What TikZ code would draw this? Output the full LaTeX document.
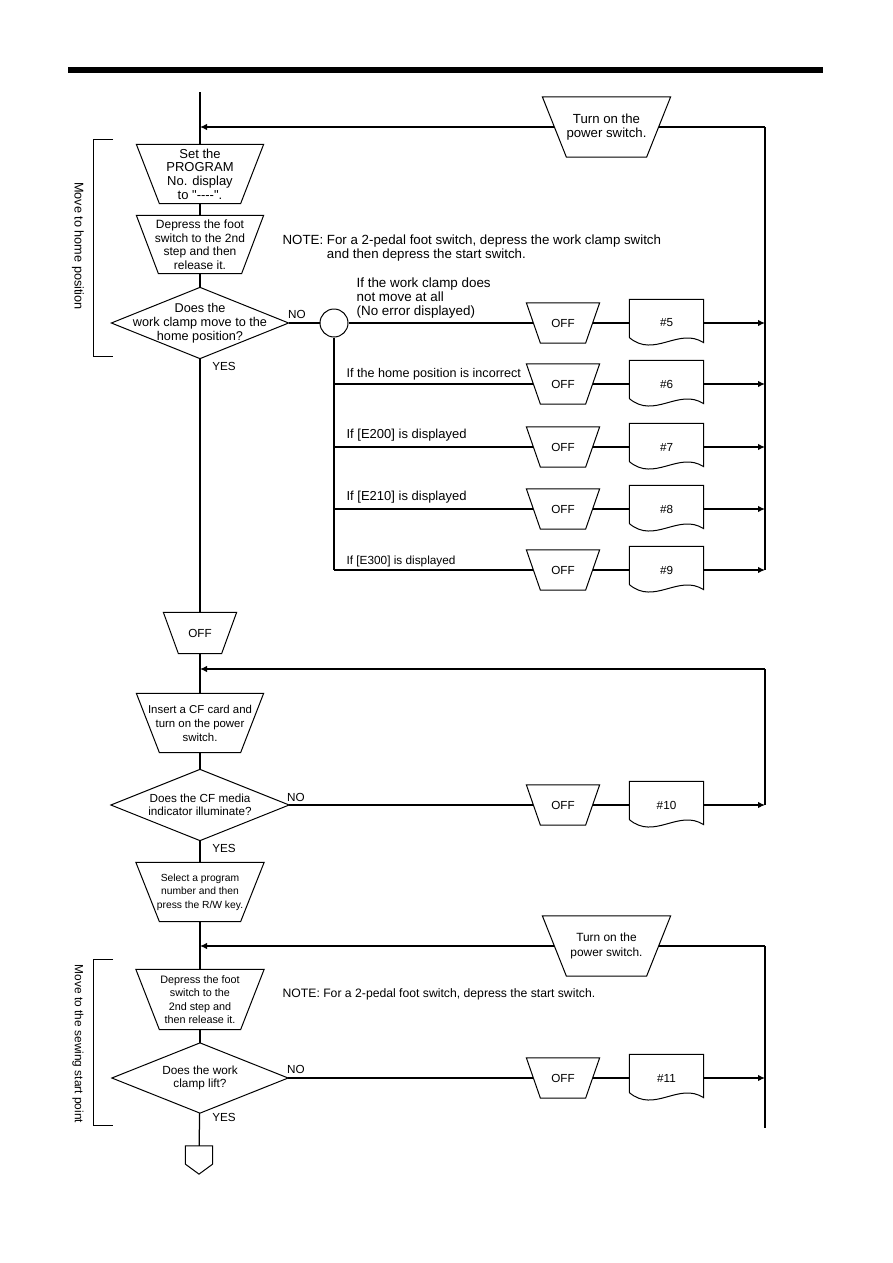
\documentclass[tikz,border=0pt]{standalone}
\usepackage{fontspec}
\newfontfamily\lib{Liberation Sans}
\usetikzlibrary{arrows.meta,calc}
\newcommand\fsz[2]{\fontsize{#1pt}{#2pt}\selectfont}
\newcommand\trapdraw[2]{\draw[shp] (#1.north west) -- (#1.north east) -- ([xshift=-#2pt]#1.south east) -- ([xshift=#2pt]#1.south west) -- cycle;}
\newcommand\diadraw[1]{\draw[shp] (#1.north) -- (#1.east) -- (#1.south) -- (#1.west) -- cycle;}
\newcommand\docdraw[1]{\draw[shp] ($(#1.south west)+(0,-9)$) -- (#1.north west) -- (#1.north east) -- ($(#1.south east)+(0,-4)$) .. controls ($(#1.south east)+(-25,-20)$) and ($(#1.south west)+(25,12)$) .. ($(#1.south west)+(0,-9)$);}
\begin{document}
\begin{tikzpicture}[x=1pt,y=-1pt,line width=1.25pt,
  shp/.style={line width=1pt,line join=miter},
  box/.style={inner sep=0pt,align=center},
  lbl/.style={inner sep=0pt,font=\lib\fsz{11.7}{14}},
  arr/.style={-{Latex[length=7pt,width=6.5pt]}}]
\useasboundingbox (0,0) rectangle (893,1263);
\fill (68,67) rectangle (823,72.5);

% ---------- first section ----------
\coordinate (top) at (200,92);
\coordinate (j1) at (200,127);
\coordinate (r1) at (765,127);
\node[box,minimum width=127pt,minimum height=59pt,font=\lib\fsz{13.2}{13.5}] (pw1) at (606.5,127) {Turn on the\\power switch.};
\node[box,minimum width=126pt,minimum height=58pt,font=\lib\fsz{13}{13.7}] (prog) at (200,174) {Set the\\PROGRAM\\No. display\\to "----".};
\node[box,minimum width=126pt,minimum height=57pt,font=\lib\fsz{12}{13.5}] (dep1) at (200,244.5) {Depress the foot\\switch to the 2nd\\step and then\\release it.};
\node[box,minimum width=176pt,minimum height=70pt,font=\lib\fsz{12.7}{14}] (d1) at (200,323) {Does the\\work clamp move to the\\home position?};
\node[circle,draw,line width=1pt,minimum size=28pt,inner sep=0pt] (circ) at (334,323) {};
\node[lbl,anchor=west,align=left,font=\lib\fsz{13.4}{14}] (lab5) at (356,298) {If the work clamp does\\not move at all\\(No error displayed)};
\node[lbl,anchor=west,align=left,font=\lib\fsz{13.3}{14}] (note1) at (282,248) {NOTE: For a 2-pedal foot switch, depress the work clamp switch\\\hphantom{NOTE: }and then depress the start switch.};
\node[lbl] (no1) at (297,314) {NO};
\node[lbl] (yes1) at (224,366) {YES};

\foreach \n/\y in {5/323,6/384,7/447,8/509,9/570}{
  \node[box,minimum width=72pt,minimum height=39pt,font=\lib\fsz{11.7}{14}] (off\n) at (563,\y) {OFF};
  \node[box,minimum width=73pt,minimum height=46pt,font=\lib\fsz{11.7}{14}] (doc\n) at (666.5,\y) {\#\n};
  \coordinate (a\n) at (765,\y);
  \coordinate (b\n) at (334,\y);
}
\node[lbl,anchor=west,font=\lib\fsz{12.6}{14}] (lab6) at (346,374) {If the home position is incorrect};
\node[lbl,anchor=west,font=\lib\fsz{13}{14}] (lab7) at (346,435) {If [E200] is displayed};
\node[lbl,anchor=west,font=\lib\fsz{13}{14}] (lab8) at (346,497) {If [E210] is displayed};
\node[lbl,anchor=west,font=\lib\fsz{11.8}{14}] (lab9) at (346,561) {If [E300] is displayed};

\node[lbl,rotate=-90,font=\lib\fsz{12.7}{14}] (mv1) at (78,246) {Move to home position};
\draw[shp] (113,139) -- (93,139) -- (93,356) -- (113,356);

% ---------- second section ----------
\node[box,minimum width=72pt,minimum height=40pt,font=\lib\fsz{11.7}{14}] (off1) at (200,633) {OFF};
\coordinate (j2) at (200,669);
\coordinate (r2) at (765,669);
\node[box,minimum width=126pt,minimum height=58pt,font=\lib\fsz{11.4}{14}] (cf) at (200,723) {Insert a CF card and\\turn on the power\\switch.};
\node[box,minimum width=177pt,minimum height=70pt,font=\lib\fsz{11.7}{13}] (d2) at (200,805) {Does the CF media\\indicator illuminate?};
\node[lbl] (no2) at (296,797) {NO};
\node[lbl] (yes2) at (224,848) {YES};
\node[box,minimum width=72pt,minimum height=39pt,font=\lib\fsz{11.7}{14}] (off10) at (563,805) {OFF};
\node[box,minimum width=73pt,minimum height=46pt,font=\lib\fsz{11.7}{14}] (doc10) at (666.5,805) {\#10};
\coordinate (a10) at (765,805);

% ---------- third section ----------
\node[box,minimum width=127pt,minimum height=58pt,font=\lib\fsz{10.3}{13.5}] (sel) at (200,892) {Select a program\\number and then\\press the R/W key.};
\coordinate (j3) at (200,946);
\coordinate (r3) at (765,946);
\coordinate (e3) at (765,1128);
\node[box,minimum width=127pt,minimum height=59pt,font=\lib\fsz{11.9}{14.5}] (pw2) at (606.5,946) {Turn on the\\power switch.};
\node[box,minimum width=127pt,minimum height=59pt,font=\lib\fsz{10.8}{13.5}] (dep2) at (200,999.5) {Depress the foot\\switch to the\\2nd step and\\then release it.};
\node[lbl,anchor=west,font=\lib\fsz{12.2}{14}] (note2) at (282,994) {NOTE: For a 2-pedal foot switch, depress the start switch.};
\node[box,minimum width=175pt,minimum height=69pt,font=\lib\fsz{11.8}{13}] (d3) at (200,1078) {Does the work\\clamp lift?};
\node[lbl] (no3) at (296,1069) {NO};
\node[lbl] (yes3) at (224,1117) {YES};
\node[box,minimum width=72pt,minimum height=39pt,font=\lib\fsz{11.7}{14}] (off11) at (563,1078) {OFF};
\node[box,minimum width=73pt,minimum height=46pt,font=\lib\fsz{11.7}{14}] (doc11) at (666.5,1078) {\#11};
\coordinate (a11) at (765,1078);
\node[box,minimum width=26pt,minimum height=27pt] (conn) at (199,1160) {};
\draw[shp] (113,959) -- (93,959) -- (93,1125) -- (113,1125);
\node[lbl,rotate=-90,font=\lib\fsz{11.9}{14}] (mv2) at (78,1044) {Move to the sewing start point};

% ---------- shapes ----------
\trapdraw{pw1}{24}
\trapdraw{prog}{23}
\trapdraw{dep1}{22}
\diadraw{d1}
\foreach \n in {5,6,7,8,9,10,11}{\trapdraw{off\n}{14}\docdraw{doc\n}}
\trapdraw{off1}{15}
\trapdraw{cf}{23}
\diadraw{d2}
\trapdraw{sel}{23.5}
\trapdraw{pw2}{24}
\trapdraw{dep2}{23.5}
\diadraw{d3}
\draw[shp] (conn.north west) -- (conn.north east) -- ($(conn.south east)+(0,-10)$) -- (conn.south) -- ($(conn.south west)+(0,-10)$) -- cycle;

% ---------- connectors ----------
\draw (top) -- (prog);
\draw (prog) -- (dep1);
\draw (dep1) -- (d1);
\draw (d1) -- (off1);
\draw (off1) -- (cf);
\draw (cf) -- (d2);
\draw (d2) -- (sel);
\draw (sel) -- (dep2);
\draw (dep2) -- (d3);
\draw (d3) -- (conn);

\draw (r1) -- ([xshift=-12pt]pw1.east);
\draw[arr] ([xshift=12pt]pw1.west) -- (j1);
\draw (r1) -- (a9);
\draw (d1) -- (circ);
\draw (circ) -- (b9);
\draw (circ) -- ([xshift=7pt]off5.west);
\foreach \n in {6,7,8,9}{\draw (b\n) -- ([xshift=7pt]off\n.west);}
\foreach \n in {5,6,7,8,9,10,11}{
  \draw ([xshift=-7pt]off\n.east) -- (doc\n.west);
  \draw[arr] (doc\n.east) -- (a\n);
}
\draw[arr] (r2) -- (j2);
\draw (r2) -- (a10);
\draw (d2) -- ([xshift=7pt]off10.west);
\draw (r3) -- ([xshift=-12pt]pw2.east);
\draw[arr] ([xshift=12pt]pw2.west) -- (j3);
\draw (r3) -- (e3);
\draw (d3) -- ([xshift=7pt]off11.west);
\end{tikzpicture}
\end{document}
